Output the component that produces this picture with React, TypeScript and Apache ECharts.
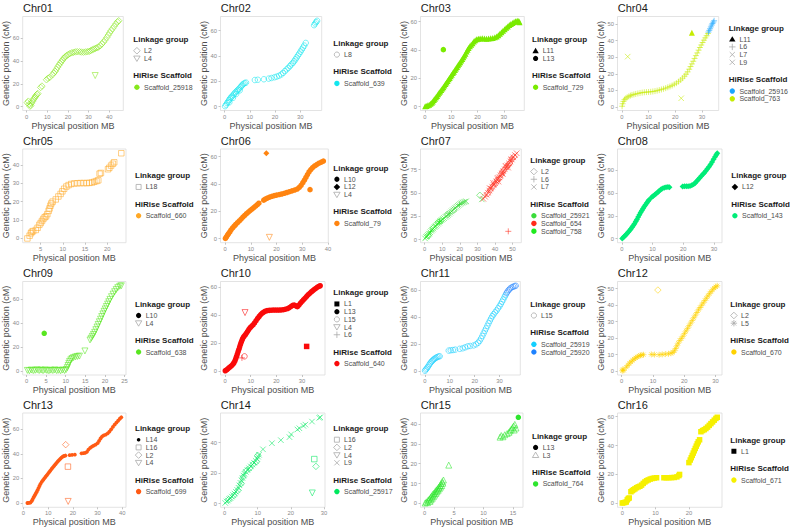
import React, { useEffect, useRef } from 'react';
import * as echarts from 'echarts';

type Pt = [number, number];

// ---------------- DATA ----------------
const chr01X = [0, 10, 20, 30, 40];
const chr01Y = [0, 20, 40, 60];
const chr01_L2_25918: Pt[] = [[0.3,3.5],[0.8,4.8],[1.2,2.0],[1.6,0.4],[2.0,1.2],[2.3,3.0],[2.8,4.5],[3.2,6.0],[3.6,7.2],[4.1,8.4],[4.5,9.6],[5.0,10.8],[5.4,11.5],[6.8,16.8],[7.4,18.0],[9.6,23.5],[10.3,24.8],[11.2,25.6],[12.5,28.0],[13.2,29.5],[13.8,30.8],[14.4,32.6],[15.0,34.5],[15.6,36.2],[16.2,37.8],[16.8,39.4],[17.4,40.8],[18.0,42.3],[18.6,43.4],[19.3,44.5],[20.1,45.5],[20.9,46.3],[21.8,47.0],[22.7,47.5],[23.6,47.8],[24.5,48.0],[25.6,47.9],[26.5,47.7],[27.5,47.6],[28.5,47.8],[29.4,48.0],[30.3,48.3],[31.0,48.9],[31.8,49.6],[32.5,50.3],[33.3,50.9],[34.0,51.4],[34.8,52.0],[35.6,53.2],[36.4,54.8],[37.2,56.4],[38.0,58.2],[38.8,60.4],[39.5,62.5],[40.2,64.5],[40.9,66.4],[41.6,68.2],[42.4,70.2],[43.2,72.3],[44.0,74.0],[44.6,75.0]];
const chr01_L4_25918: Pt[] = [[33.2,27.2]];
const chr01LG = ['L2', 'L4'];
const chr01SC = ['Scaffold_25918'];

const chr02X = [0, 10, 20, 30];
const chr02Y = [0, 20, 40, 60];
const chr02_L8_639: Pt[] = [[0.2,0.3],[0.6,1.5],[1.0,2.8],[1.4,4.0],[1.8,5.2],[1.9,3.4],[2.2,6.5],[2.6,7.4],[3.0,8.2],[3.3,6.9],[3.5,9.3],[3.9,10.4],[4.4,11.5],[4.6,10.0],[4.9,12.4],[5.3,13.3],[5.8,14.2],[6.0,12.8],[6.3,15.4],[6.7,16.3],[7.1,17.2],[7.5,18.0],[8.0,18.6],[8.5,19.0],[12.0,21.0],[13.2,21.2],[15.6,21.6],[17.5,22.1],[18.6,22.6],[19.8,23.2],[20.7,23.7],[21.6,24.4],[22.5,25.4],[23.2,26.6],[23.9,28.0],[24.6,29.4],[25.3,30.6],[25.9,32.0],[26.5,33.3],[27.1,34.6],[27.6,35.8],[28.1,37.3],[28.6,38.8],[29.1,40.4],[29.6,41.8],[30.1,43.4],[30.6,45.0],[31.1,46.6],[31.6,48.2],[32.2,50.3],[35.5,64.3],[35.9,65.6],[36.3,66.7],[36.7,67.8]];
const chr02LG = ['L8'];
const chr02SC = ['Scaffold_639'];

const chr03X = [0, 10, 20, 30];
const chr03Y = [0, 20, 40, 60];
const chr03_L11_729: Pt[] = [[0.1,0.2],[0.6,0.4],[1.1,0.9],[1.6,1.3],[2.1,1.9],[2.6,2.6],[3.0,3.6],[3.4,4.6],[3.8,5.5],[4.2,6.6],[4.6,7.5],[5.0,8.6],[5.4,9.7],[5.8,10.6],[6.2,11.7],[6.6,12.8],[7.0,13.7],[7.4,14.8],[7.8,15.9],[8.2,16.9],[8.6,18.1],[9.0,19.2],[9.4,20.2],[9.8,21.3],[10.2,22.5],[10.6,23.6],[11.0,24.6],[11.4,25.8],[11.8,26.9],[12.2,28.0],[12.6,29.1],[13.0,30.2],[13.4,31.3],[13.8,32.5],[14.2,33.6],[14.6,34.8],[15.0,36.0],[15.4,37.3],[15.8,38.8],[16.2,40.2],[16.6,41.4],[17.1,42.6],[17.6,43.7],[18.1,44.8],[18.6,45.9],[19.1,46.8],[19.7,47.5],[20.3,47.9],[21.0,48.1],[21.8,48.2],[22.6,48.0],[23.4,47.9],[24.2,48.0],[25.0,48.2],[25.8,48.5],[26.6,48.9],[27.3,49.5],[27.9,50.4],[28.5,51.4],[29.1,52.5],[29.7,53.6],[30.3,54.6],[30.9,55.6],[31.5,56.6],[32.1,57.6],[32.7,58.4],[33.3,59.1],[33.9,59.7],[34.5,60.2],[35.1,60.6],[35.7,60.4],[36.0,59.5]];
const chr03_L13_729: Pt[] = [[7.0,40.2]];
const chr03LG = ['L11', 'L13'];
const chr03SC = ['Scaffold_729'];

const chr04X = [0, 10, 20, 30];
const chr04Y = [0, 10, 20, 30, 40, 50];
const chr04_L6_763: Pt[] = [[0.1,0.5],[0.3,2.0],[0.6,3.4],[1.0,4.5],[1.5,5.3],[2.0,5.9],[2.6,6.4],[3.2,6.9],[3.8,7.3],[4.5,7.6],[5.2,7.9],[6.0,8.2],[6.8,8.5],[7.6,8.7],[8.4,8.9],[9.2,9.0],[10.0,9.1],[10.8,9.2],[11.6,9.4],[12.4,9.6],[13.2,9.9],[14.0,10.2],[14.8,10.6],[15.6,11.0],[16.4,11.4],[17.2,11.9],[18.0,12.4],[18.8,13.0],[19.6,13.7],[20.4,14.4],[21.2,15.3],[22.0,16.3],[22.7,17.4],[23.4,18.6],[24.0,19.8],[24.6,21.2],[25.2,22.8],[25.7,24.4],[26.2,26.0],[26.7,27.6],[27.2,29.3],[27.7,31.0],[28.2,32.6],[28.7,34.3],[29.2,35.9],[29.7,37.4],[30.2,38.9],[30.7,40.3],[31.2,41.7],[31.7,43.0],[32.2,44.3]];
const chr04_L6_25916: Pt[] = [[32.4,45.2],[32.7,46.2],[33.0,47.2],[33.3,48.3],[33.6,49.4],[33.9,50.3],[34.2,51.2],[34.5,52.0]];
const chr04_L11_763: Pt[] = [[26.2,44.8]];
const chr04_L7_763: Pt[] = [[2.2,30.4]];
const chr04_L9_763: Pt[] = [[22.2,5.3]];
const chr04LG = ['L11', 'L6', 'L7', 'L9'];
const chr04SC = ['Scaffold_25916', 'Scaffold_763'];

const chr05X = [5, 10, 15, 20];
const chr05Y = [0, 10, 20, 30, 40];
const chr05_L18_660: Pt[] = [[2.0,0.0],[2.5,1.5],[2.8,2.8],[3.0,3.6],[3.3,4.0],[3.9,4.6],[4.3,5.8],[4.7,7.4],[5.0,8.4],[5.3,9.5],[5.6,10.6],[5.9,11.5],[6.2,12.0],[6.5,13.2],[6.8,15.0],[7.0,16.3],[7.2,17.8],[7.4,19.0],[7.7,20.0],[8.4,21.2],[9.0,22.8],[9.5,24.2],[9.9,25.6],[10.3,27.0],[10.8,28.2],[11.3,29.0],[11.9,29.6],[12.6,29.9],[13.3,30.0],[14.0,30.1],[14.7,30.1],[15.4,30.1],[16.0,30.2],[16.6,30.4],[17.1,30.8],[17.6,31.2],[18.0,31.6],[18.3,35.2],[18.6,35.6],[20.2,37.6],[20.5,38.4],[20.9,39.6],[21.3,40.6],[21.6,41.4],[23.2,46.3]];
const chr05LG = ['L18'];
const chr05SC = ['Scaffold_660'];

const chr06X = [0, 10, 20, 30, 40];
const chr06Y = [0, 20, 40, 60];
const chr06_L10_79: Pt[] = [[0.1,0.2],[0.5,1.3],[0.9,2.6],[1.3,3.7],[1.8,5.0],[2.3,6.5],[2.9,7.9],[3.5,9.2],[4.1,10.4],[4.8,11.7],[5.5,13.0],[6.2,14.4],[6.9,15.8],[7.6,17.0],[8.3,18.3],[9.0,19.5],[9.7,20.6],[10.4,21.6],[11.1,22.7],[11.8,23.8],[12.5,24.9],[13.1,26.0],[15.0,28.2],[15.6,29.0],[16.4,29.7],[17.3,30.4],[18.2,31.0],[19.1,31.5],[20.0,31.9],[21.0,32.3],[22.0,32.7],[23.0,33.2],[24.0,33.8],[25.0,34.4],[26.0,35.0],[27.0,35.6],[28.0,36.3],[28.8,37.5],[29.5,39.0],[30.2,41.0],[30.8,42.8],[31.4,44.8],[32.0,46.9],[32.6,48.8],[33.3,50.6],[34.0,52.0],[34.8,53.2],[35.6,54.2],[36.5,55.2],[37.4,56.0],[38.2,56.8],[33.0,35.9]];
const chr06_L12_79: Pt[] = [[16.0,62.5]];
const chr06_L4_79: Pt[] = [[17.2,1.0]];
const chr06LG = ['L10', 'L12', 'L4'];
const chr06SC = ['Scaffold_79'];

const chr07X = [0, 10, 20, 30, 40, 50];
const chr07Y = [0, 25, 50, 75];
const chr07_L7_758: Pt[] = [[0.2,1.2],[0.8,2.8],[1.4,3.6],[1.9,5.0],[2.5,6.3],[3.1,7.8],[3.7,9.4],[4.3,10.6],[4.9,11.8],[5.6,13.4],[6.2,14.6],[6.8,15.8],[7.5,17.0],[8.2,18.2],[8.9,19.6],[9.6,20.8],[10.3,22.0],[11.0,23.0]];
const chr07_L7_25921: Pt[] = [[11.8,24.2],[12.5,25.3],[13.2,26.4],[13.9,27.6],[14.6,28.9],[15.3,30.2],[16.0,31.4],[16.7,32.6],[17.4,33.9],[18.1,35.1],[18.8,36.2],[19.5,37.2],[20.2,38.2],[20.9,39.0],[21.6,39.6],[22.3,40.1],[23.0,40.6],[23.6,41.0],[32.5,43.0]];
const chr07_L2_758: Pt[] = [[2.0,4.2],[5.0,12.8],[7.8,18.8],[9.2,20.0]];
const chr07_L2_25921: Pt[] = [[13.0,26.8],[16.5,31.8],[31.4,47.4]];
const chr07_L6_758: Pt[] = [[3.4,8.4],[8.5,19.2]];
const chr07_L6_25921: Pt[] = [[14.2,28.0],[19.8,37.6]];
const chr07_L7_654: Pt[] = [[33.4,43.6],[34.4,45.8],[35.2,48.0],[36.0,50.2],[36.8,52.5],[37.0,55.0],[37.6,54.6],[38.4,56.7],[39.0,60.5],[39.2,58.6],[40.0,60.4],[40.8,62.3],[41.5,66.0],[41.6,64.4],[42.0,62.0],[42.4,66.6],[43.2,68.8],[44.0,71.0],[44.5,70.0],[44.8,73.2],[45.6,75.2],[46.0,79.0],[46.4,77.3],[47.2,79.4],[47.5,77.0],[48.0,81.5],[48.8,83.6],[49.0,86.0],[49.6,85.7],[50.4,88.0],[51.4,90.5],[52.4,92.4]];
const chr07_L2_654: Pt[] = [[35.8,49.0],[37.4,53.2],[38.8,57.0],[40.2,59.6],[41.2,63.8],[42.6,65.4],[43.6,69.6],[44.2,72.2],[45.2,74.6],[46.8,78.0],[47.8,80.2],[48.4,82.0],[49.8,86.4],[50.8,88.6]];
const chr07_L6_654: Pt[] = [[47.6,8.8]];
const chr07LG = ['L2', 'L6', 'L7'];
const chr07SC = ['Scaffold_25921', 'Scaffold_654', 'Scaffold_758'];

const chr08X = [0, 10, 20, 30];
const chr08Y = [0, 30, 60, 90];
const chr08_L12_143: Pt[] = [[0.1,0.3],[0.5,1.8],[0.9,3.4],[1.3,5.0],[1.7,6.9],[2.1,8.8],[2.5,10.8],[2.9,12.8],[3.3,14.9],[3.7,17.2],[4.1,19.7],[4.5,22.4],[4.9,25.3],[5.3,28.3],[5.7,31.3],[6.1,34.2],[6.5,37.0],[6.9,39.6],[7.3,42.1],[7.7,44.5],[8.1,46.8],[8.5,49.0],[8.8,50.6],[9.7,54.3],[10.2,56.0],[10.7,57.6],[11.2,59.3],[11.7,61.0],[12.2,62.8],[12.7,64.5],[13.2,65.8],[13.8,66.8],[14.4,67.4],[15.0,67.6],[15.5,67.5],[19.8,68.3],[20.4,68.6],[21.0,68.6],[21.6,68.8],[22.2,69.2],[22.8,70.0],[23.4,71.2],[23.9,73.0],[24.4,75.2],[24.9,77.6],[25.4,80.0],[25.9,82.2],[26.4,84.4],[26.9,86.6],[27.4,89.0],[27.9,91.6],[28.4,94.4],[28.9,97.4],[29.4,100.6],[29.9,104.0],[30.4,107.4],[30.8,110.0],[31.1,112.0]];
const chr08LG = ['L12'];
const chr08SC = ['Scaffold_143'];

const chr09X = [0, 5, 10, 15, 20, 25];
const chr09Y = [0, 20, 40, 60];
const chr09_L4_638: Pt[] = [[0.2,0.5],[0.7,0.2],[1.2,0.8],[1.7,0.3],[2.2,0.6],[2.7,1.0],[3.2,0.4],[3.7,0.8],[4.2,0.3],[4.7,0.9],[5.2,0.5],[5.7,0.2],[6.2,0.7],[6.7,0.4],[7.2,0.9],[7.7,0.3],[8.2,0.6],[8.7,0.2],[9.2,0.8],[9.7,0.4],[10.1,1.2],[10.4,2.8],[10.6,4.6],[10.8,6.4],[11.0,8.0],[11.3,9.4],[11.6,10.4],[12.0,11.2],[12.5,11.8],[13.0,12.2],[13.5,12.5],[14.9,16.8],[16.2,26.0],[16.5,27.4],[16.8,29.0],[17.1,30.6],[17.4,32.4],[17.7,34.6],[18.0,36.8],[18.3,39.0],[18.6,41.2],[18.9,43.4],[19.2,45.6],[19.5,47.8],[19.8,50.0],[20.1,52.0],[20.4,54.0],[20.7,56.0],[21.0,58.0],[21.3,60.0],[21.7,62.2],[22.1,64.4],[22.5,66.4],[22.9,68.2],[23.3,69.8],[23.8,71.0],[24.2,71.4]];
const chr09_L10_638: Pt[] = [[4.5,31.6]];
const chr09LG = ['L10', 'L4'];
const chr09SC = ['Scaffold_638'];

const chr10X = [0, 10, 20, 30];
const chr10Y = [0, 20, 40, 60];
const chr10_L13_640: Pt[] = [[0.1,0.2],[0.6,0.8],[1.1,1.6],[1.6,2.4],[2.1,3.2],[2.6,3.9],[3.1,4.9],[3.5,6.0],[3.9,7.4],[4.2,8.9],[4.5,10.5],[4.8,12.1],[5.1,13.8],[5.4,15.5],[5.7,17.2],[6.0,18.9],[6.3,20.5],[6.6,22.0],[6.9,23.4],[7.3,24.6],[7.8,25.6],[8.3,27.0],[8.8,28.4],[9.3,29.8],[9.8,31.0],[10.3,32.0],[10.9,33.0],[11.5,34.4],[12.1,36.0],[12.7,37.6],[13.3,39.0],[13.9,40.4],[14.5,41.4],[15.1,42.2],[15.7,42.8],[16.4,43.2],[17.2,43.4],[18.0,43.5],[18.8,43.6],[19.6,43.6],[20.4,43.6],[21.2,43.6],[22.0,43.7],[22.8,43.9],[23.6,44.2],[24.4,44.7],[25.1,45.4],[25.8,46.3],[26.4,47.0],[27.0,47.2],[27.6,46.6],[28.2,46.0],[28.8,47.2],[29.4,48.6],[30.0,49.8],[30.6,51.0],[31.2,52.2],[31.8,53.4],[32.4,54.6],[33.0,55.6],[33.6,56.6],[34.2,57.5],[34.8,58.4],[35.4,59.2],[36.0,60.0],[36.6,60.6],[37.1,61.0]];
const chr10_L1_640: Pt[] = [[31.8,17.6]];
const chr10_L4_640: Pt[] = [[7.8,41.8]];
const chr10_L15_640: Pt[] = [[7.6,10.5]];
const chr10_L6_640: Pt[] = [[6.6,9.4]];
const chr10LG = ['L1', 'L13', 'L15', 'L4', 'L6'];
const chr10SC = ['Scaffold_640'];

const chr11X = [0, 10, 20, 30];
const chr11Y = [0, 20, 40, 60];
const chr11_L15_25919: Pt[] = [[0.1,0.3],[0.4,1.2],[0.8,2.0],[1.2,3.0],[1.6,4.2],[2.0,5.4],[2.4,6.4],[2.8,7.3],[3.2,8.0],[3.6,8.7],[4.0,9.3],[4.5,9.9],[5.0,10.4],[5.5,10.8],[6.0,11.0],[9.6,15.2],[10.4,15.4],[11.3,15.6],[12.2,15.9],[14.0,16.5],[15.2,16.9],[16.2,17.6],[17.2,18.3],[18.2,18.6],[19.6,19.0],[20.6,19.8],[21.4,21.0],[22.0,22.4],[22.6,24.2],[23.1,26.0],[23.6,27.9],[24.1,29.8],[24.6,31.6],[25.1,33.5],[25.6,35.4],[26.1,37.2],[26.6,39.0],[27.1,40.6],[27.6,42.0],[28.2,43.4],[28.8,44.8],[29.4,46.4],[30.0,48.0],[30.5,49.6],[31.0,51.3],[31.5,53.0],[32.0,54.8],[32.4,56.2]];
const chr11_L15_25920: Pt[] = [[32.8,57.6],[33.2,58.8],[33.7,60.0],[34.2,61.0],[34.8,61.8],[35.4,62.4],[36.0,62.8],[36.5,63.1]];
const chr11LG = ['L15'];
const chr11SC = ['Scaffold_25919', 'Scaffold_25920'];

const chr12X = [0, 10, 20, 30];
const chr12Y = [0, 10, 20, 30, 40, 50];
const chr12_L5_670: Pt[] = [[0.2,0.3],[0.4,1.2],[0.7,0.5],[1.5,2.5],[2.0,3.6],[2.5,4.8],[3.0,5.7],[3.5,6.6],[4.0,7.4],[4.5,8.1],[5.0,8.7],[5.5,9.2],[6.0,9.6],[6.5,9.9],[7.0,10.0],[9.5,10.2],[10.5,10.1],[12.0,10.0],[13.0,10.2],[14.0,10.4],[15.0,10.6],[15.8,10.9],[16.4,11.4],[16.9,12.4],[17.3,13.8],[17.7,15.4],[18.1,17.0],[18.6,18.6],[19.1,19.8],[19.6,21.2],[20.1,22.8],[20.6,24.4],[21.1,26.0],[21.6,27.6],[22.1,29.2],[22.6,30.8],[23.1,32.4],[23.6,34.0],[24.1,35.6],[24.6,37.2],[25.1,38.6],[25.6,40.0],[26.1,41.4],[26.6,42.8],[27.1,44.2],[27.6,45.6],[28.1,47.0],[28.6,48.2],[29.1,49.4],[29.6,50.4],[30.1,51.2],[30.6,51.8]];
const chr12_L2_670: Pt[] = [[11.6,49.2]];
const chr12LG = ['L2', 'L5'];
const chr12SC = ['Scaffold_670'];

const chr13X = [0, 10, 20, 30, 40];
const chr13Y = [0, 20, 40, 60];
const chr13_L14_699: Pt[] = [[1.6,0.1],[2.2,0.2],[2.8,0.4],[3.3,1.6],[3.7,3.0],[4.1,4.6],[4.5,6.0],[4.9,7.4],[5.3,8.9],[5.7,10.5],[6.1,12.2],[6.5,13.9],[6.9,15.6],[7.4,17.2],[7.9,18.6],[8.4,19.9],[8.9,21.2],[9.4,22.5],[9.9,23.8],[10.4,25.1],[10.9,26.4],[11.4,27.7],[11.9,29.0],[12.4,30.2],[12.9,31.4],[13.4,32.6],[13.9,33.8],[14.4,34.9],[14.9,35.9],[15.4,36.9],[15.9,37.7],[16.4,38.2],[17.0,38.6],[18.7,38.9],[19.7,39.1],[20.8,39.3],[23.5,40.4],[24.3,40.6],[25.0,40.8],[25.7,41.6],[26.3,43.4],[27.0,44.8],[27.7,45.8],[28.4,46.6],[29.2,47.4],[30.0,48.6],[30.6,50.4],[31.2,52.4],[31.8,54.0],[32.5,55.0],[33.3,55.6],[34.1,56.6],[34.8,58.0],[35.5,59.8],[36.2,61.8],[36.9,63.6],[37.6,65.2],[38.3,66.8],[39.0,68.4],[39.6,69.6]];
const chr13_L2_699: Pt[] = [[17.1,47.4]];
const chr13_L16_699: Pt[] = [[18.0,29.6]];
const chr13_L4_699: Pt[] = [[18.1,1.4]];
const chr13LG = ['L14', 'L16', 'L2', 'L4'];
const chr13SC = ['Scaffold_699'];

const chr14X = [0, 10, 20, 30];
const chr14Y = [0, 20, 40];
const chr14_L9_25917: Pt[] = [[0.2,0.4],[0.6,1.4],[1.0,2.0],[1.4,3.0],[1.8,3.6],[2.2,4.6],[2.6,5.6],[3.0,6.6],[3.4,7.8],[3.8,9.0],[4.2,10.4],[4.5,12.0],[4.8,13.6],[5.1,15.2],[5.4,16.8],[5.7,18.4],[6.0,19.6],[6.4,20.8],[6.9,22.0],[7.4,23.2],[7.9,24.4],[8.4,25.6],[8.9,26.8],[9.4,28.0],[9.8,29.4],[10.1,30.8],[10.4,32.0],[11.6,35.6],[14.3,39.6],[17.0,41.6],[19.6,43.6],[20.1,45.4],[22.0,48.6],[22.6,49.4],[23.8,51.0],[24.4,51.8],[26.4,53.8],[28.6,56.2],[28.9,56.6]];
const chr14_L2_25917: Pt[] = [[1.2,2.6],[2.8,5.4],[4.0,8.6],[5.0,13.0],[5.6,17.4],[6.6,21.6],[7.6,23.2],[8.6,25.8],[9.6,27.4],[10.0,31.6],[27.6,24.4]];
const chr14_L16_25917: Pt[] = [[27.1,29.2]];
const chr14_L4_25917: Pt[] = [[26.5,7.0]];
const chr14LG = ['L16', 'L2', 'L4', 'L9'];
const chr14SC = ['Scaffold_25917'];

const chr15X = [0, 5, 10, 15];
const chr15Y = [0, 10, 20, 30, 40];
const chr15_L3_764: Pt[] = [[0.1,0.2],[0.3,0.8],[0.5,0.4],[0.6,1.6],[0.8,2.2],[0.9,1.0],[1.0,3.0],[1.1,1.8],[1.2,3.8],[1.3,2.6],[1.4,4.6],[1.5,3.4],[1.6,5.2],[1.7,4.2],[1.8,6.0],[1.9,5.0],[2.0,6.8],[2.1,5.8],[2.2,7.4],[2.3,6.6],[2.4,8.2],[2.5,7.4],[2.6,9.0],[2.7,8.2],[2.8,10.0],[2.9,9.0],[3.0,11.0],[3.1,10.2],[3.2,11.8],[4.1,19.3],[12.8,33.4],[13.0,34.2],[13.3,33.6],[13.6,34.6],[14.0,35.2],[14.3,35.8],[14.5,36.6],[14.7,37.4],[14.9,38.2],[15.1,39.0],[15.3,39.8],[15.2,37.0],[15.5,38.0]];
const chr15_L13_764: Pt[] = [[15.9,43.4]];
const chr15LG = ['L13', 'L3'];
const chr15SC = ['Scaffold_764'];

const chr16X = [0, 10, 20];
const chr16Y = [0, 20, 40, 60];
const chr16_L1_671: Pt[] = [[0.0,0.2],[0.4,0.4],[0.8,0.6],[1.2,0.9],[1.5,2.4],[1.8,3.3],[2.1,3.7],[2.6,8.0],[3.0,8.8],[3.4,9.4],[3.8,10.0],[4.3,10.8],[4.8,11.4],[5.3,11.8],[5.8,12.6],[6.3,13.8],[6.8,14.8],[7.3,15.6],[7.8,16.2],[8.4,16.8],[9.0,17.2],[9.6,17.5],[10.3,17.7],[12.5,17.7],[13.2,17.7],[14.0,17.7],[14.8,17.8],[15.6,17.9],[16.4,18.3],[17.0,19.2],[17.2,20.0],[20.0,28.2],[20.4,30.0],[20.7,31.6],[21.0,33.2],[21.3,34.8],[21.6,36.4],[21.9,38.0],[22.2,39.6],[22.5,41.2],[22.8,42.6],[23.2,44.0],[23.6,49.6],[24.1,50.4],[24.6,51.0],[25.1,51.8],[25.6,52.8],[26.1,54.0],[26.6,55.2],[27.1,56.4],[27.6,57.6],[28.1,58.8],[28.5,59.6]];
const chr16LG = ['L1'];
const chr16SC = ['Scaffold_671'];

// ---------------- STYLES ----------------
const SCAFFOLD_COLORS: Record<string, string> = {
  Scaffold_25918: '#86E81C', Scaffold_639: '#12E6EE', Scaffold_729: '#7AEB00',
  Scaffold_25916: '#1AA6FF', Scaffold_763: '#C6EC00', Scaffold_660: '#FFA826',
  Scaffold_79: '#FF8410', Scaffold_25921: '#3ADB3A', Scaffold_654: '#FF2A1A',
  Scaffold_758: '#1FEA1F', Scaffold_143: '#00EC78', Scaffold_638: '#58E620',
  Scaffold_640: '#FA0A0A', Scaffold_25919: '#14CFFF', Scaffold_25920: '#1E82FF',
  Scaffold_670: '#FFD200', Scaffold_699: '#FF5A14', Scaffold_25917: '#00E85E',
  Scaffold_764: '#2EE52E', Scaffold_671: '#F6F000',
};

type Kind = 'circle' | 'rect' | 'diamond' | 'triangle' | 'triangleDown' | 'plus' | 'cross' | 'asterisk' | 'dot';
const LG_SHAPE: Record<string, { kind: Kind; filled: boolean; size: number }> = {
  L1: { kind: 'rect', filled: true, size: 5.5 },
  L2: { kind: 'diamond', filled: false, size: 6.5 },
  L3: { kind: 'triangle', filled: false, size: 6 },
  L4: { kind: 'triangleDown', filled: false, size: 6 },
  L5: { kind: 'asterisk', filled: false, size: 6 },
  L6: { kind: 'plus', filled: false, size: 6 },
  L7: { kind: 'cross', filled: false, size: 5.5 },
  L8: { kind: 'circle', filled: false, size: 5.5 },
  L9: { kind: 'cross', filled: false, size: 5.5 },
  L10: { kind: 'circle', filled: true, size: 5.5 },
  L11: { kind: 'triangle', filled: true, size: 6 },
  L12: { kind: 'diamond', filled: true, size: 6 },
  L13: { kind: 'circle', filled: true, size: 5.5 },
  L14: { kind: 'dot', filled: true, size: 3.8 },
  L15: { kind: 'circle', filled: false, size: 5.5 },
  L16: { kind: 'rect', filled: false, size: 5.5 },
  L18: { kind: 'rect', filled: false, size: 5.5 },
};

interface Group { sc: string; lg: string; data: Pt[] }
interface Panel { title: string; xTicks: number[]; yTicks: number[]; groups: Group[]; lg: string[]; sc: string[] }

const panels: Panel[] = [
  { title: 'Chr01', xTicks: chr01X, yTicks: chr01Y, lg: chr01LG, sc: chr01SC, groups: [
    { sc: 'Scaffold_25918', lg: 'L2', data: chr01_L2_25918 }, { sc: 'Scaffold_25918', lg: 'L4', data: chr01_L4_25918 }] },
  { title: 'Chr02', xTicks: chr02X, yTicks: chr02Y, lg: chr02LG, sc: chr02SC, groups: [
    { sc: 'Scaffold_639', lg: 'L8', data: chr02_L8_639 }] },
  { title: 'Chr03', xTicks: chr03X, yTicks: chr03Y, lg: chr03LG, sc: chr03SC, groups: [
    { sc: 'Scaffold_729', lg: 'L11', data: chr03_L11_729 }, { sc: 'Scaffold_729', lg: 'L13', data: chr03_L13_729 }] },
  { title: 'Chr04', xTicks: chr04X, yTicks: chr04Y, lg: chr04LG, sc: chr04SC, groups: [
    { sc: 'Scaffold_763', lg: 'L6', data: chr04_L6_763 }, { sc: 'Scaffold_25916', lg: 'L6', data: chr04_L6_25916 },
    { sc: 'Scaffold_763', lg: 'L11', data: chr04_L11_763 }, { sc: 'Scaffold_763', lg: 'L7', data: chr04_L7_763 },
    { sc: 'Scaffold_763', lg: 'L9', data: chr04_L9_763 }] },
  { title: 'Chr05', xTicks: chr05X, yTicks: chr05Y, lg: chr05LG, sc: chr05SC, groups: [
    { sc: 'Scaffold_660', lg: 'L18', data: chr05_L18_660 }] },
  { title: 'Chr06', xTicks: chr06X, yTicks: chr06Y, lg: chr06LG, sc: chr06SC, groups: [
    { sc: 'Scaffold_79', lg: 'L10', data: chr06_L10_79 }, { sc: 'Scaffold_79', lg: 'L12', data: chr06_L12_79 },
    { sc: 'Scaffold_79', lg: 'L4', data: chr06_L4_79 }] },
  { title: 'Chr07', xTicks: chr07X, yTicks: chr07Y, lg: chr07LG, sc: chr07SC, groups: [
    { sc: 'Scaffold_758', lg: 'L7', data: chr07_L7_758 }, { sc: 'Scaffold_25921', lg: 'L7', data: chr07_L7_25921 },
    { sc: 'Scaffold_758', lg: 'L2', data: chr07_L2_758 }, { sc: 'Scaffold_25921', lg: 'L2', data: chr07_L2_25921 },
    { sc: 'Scaffold_758', lg: 'L6', data: chr07_L6_758 }, { sc: 'Scaffold_25921', lg: 'L6', data: chr07_L6_25921 },
    { sc: 'Scaffold_654', lg: 'L7', data: chr07_L7_654 }, { sc: 'Scaffold_654', lg: 'L2', data: chr07_L2_654 },
    { sc: 'Scaffold_654', lg: 'L6', data: chr07_L6_654 }] },
  { title: 'Chr08', xTicks: chr08X, yTicks: chr08Y, lg: chr08LG, sc: chr08SC, groups: [
    { sc: 'Scaffold_143', lg: 'L12', data: chr08_L12_143 }] },
  { title: 'Chr09', xTicks: chr09X, yTicks: chr09Y, lg: chr09LG, sc: chr09SC, groups: [
    { sc: 'Scaffold_638', lg: 'L4', data: chr09_L4_638 }, { sc: 'Scaffold_638', lg: 'L10', data: chr09_L10_638 }] },
  { title: 'Chr10', xTicks: chr10X, yTicks: chr10Y, lg: chr10LG, sc: chr10SC, groups: [
    { sc: 'Scaffold_640', lg: 'L13', data: chr10_L13_640 }, { sc: 'Scaffold_640', lg: 'L1', data: chr10_L1_640 },
    { sc: 'Scaffold_640', lg: 'L4', data: chr10_L4_640 }, { sc: 'Scaffold_640', lg: 'L15', data: chr10_L15_640 },
    { sc: 'Scaffold_640', lg: 'L6', data: chr10_L6_640 }] },
  { title: 'Chr11', xTicks: chr11X, yTicks: chr11Y, lg: chr11LG, sc: chr11SC, groups: [
    { sc: 'Scaffold_25919', lg: 'L15', data: chr11_L15_25919 }, { sc: 'Scaffold_25920', lg: 'L15', data: chr11_L15_25920 }] },
  { title: 'Chr12', xTicks: chr12X, yTicks: chr12Y, lg: chr12LG, sc: chr12SC, groups: [
    { sc: 'Scaffold_670', lg: 'L5', data: chr12_L5_670 }, { sc: 'Scaffold_670', lg: 'L2', data: chr12_L2_670 }] },
  { title: 'Chr13', xTicks: chr13X, yTicks: chr13Y, lg: chr13LG, sc: chr13SC, groups: [
    { sc: 'Scaffold_699', lg: 'L14', data: chr13_L14_699 }, { sc: 'Scaffold_699', lg: 'L2', data: chr13_L2_699 },
    { sc: 'Scaffold_699', lg: 'L16', data: chr13_L16_699 }, { sc: 'Scaffold_699', lg: 'L4', data: chr13_L4_699 }] },
  { title: 'Chr14', xTicks: chr14X, yTicks: chr14Y, lg: chr14LG, sc: chr14SC, groups: [
    { sc: 'Scaffold_25917', lg: 'L9', data: chr14_L9_25917 }, { sc: 'Scaffold_25917', lg: 'L2', data: chr14_L2_25917 },
    { sc: 'Scaffold_25917', lg: 'L16', data: chr14_L16_25917 }, { sc: 'Scaffold_25917', lg: 'L4', data: chr14_L4_25917 }] },
  { title: 'Chr15', xTicks: chr15X, yTicks: chr15Y, lg: chr15LG, sc: chr15SC, groups: [
    { sc: 'Scaffold_764', lg: 'L3', data: chr15_L3_764 }, { sc: 'Scaffold_764', lg: 'L13', data: chr15_L13_764 }] },
  { title: 'Chr16', xTicks: chr16X, yTicks: chr16Y, lg: chr16LG, sc: chr16SC, groups: [
    { sc: 'Scaffold_671', lg: 'L1', data: chr16_L1_671 }] },
];

// ---------------- LAYOUT ----------------
const colLeft = [22.7, 220.5, 420.5, 617.5];
const rowTop = [16.5, 149, 281.5, 413];
const rowBottom = [110.5, 242.7, 375, 507.3];
const plotRight = [123.3, 321.7, 524.3, 718.7, 126, 328.3, 521.3, 722, 126, 325, 520.3, 722, 126, 325, 523, 722];
const legendX = [133.3, 333.3, 532, 728.7, 135, 333.3, 530.3, 731.3, 135, 333.3, 530.3, 730.3, 135, 333.3, 532, 730.3];
const FONT = '"Liberation Sans", Arial, sans-serif';

const PATHS: Record<string, string> = {
  plus: 'path://M0,5L10,5M5,0L5,10',
  cross: 'path://M0,0L10,10M10,0L0,10',
  asterisk: 'path://M0,5L10,5M5,0L5,10M1.5,1.5L8.5,8.5M8.5,1.5L1.5,8.5',
};

function symbolOf(kind: Kind): { symbol: string; rotate: number } {
  switch (kind) {
    case 'circle': case 'dot': return { symbol: 'circle', rotate: 0 };
    case 'rect': return { symbol: 'rect', rotate: 0 };
    case 'diamond': return { symbol: 'diamond', rotate: 0 };
    case 'triangle': return { symbol: 'triangle', rotate: 0 };
    case 'triangleDown': return { symbol: 'triangle', rotate: 180 };
    default: return { symbol: PATHS[kind], rotate: 0 };
  }
}

function extent(p: Panel, k: 0 | 1): [number, number] {
  let lo = Infinity, hi = -Infinity;
  p.groups.forEach(g => g.data.forEach(d => { lo = Math.min(lo, d[k]); hi = Math.max(hi, d[k]); }));
  const r = hi - lo;
  return [lo - 0.05 * r, hi + 0.05 * r];
}

function legendIcon(kind: Kind, filled: boolean, cx: number, cy: number): any[] {
  const fill = filled ? '#000' : 'transparent';
  const stroke = filled ? undefined : '#aaa';
  const st = { fill, stroke, lineWidth: 0.8 };
  const ln = (x1: number, y1: number, x2: number, y2: number) => ({ type: 'line', silent: true, shape: { x1, y1, x2, y2 }, style: { stroke: '#aaa', lineWidth: 0.8 } });
  switch (kind) {
    case 'circle': return [{ type: 'circle', silent: true, shape: { cx, cy, r: 2.6 }, style: st }];
    case 'dot': return [{ type: 'circle', silent: true, shape: { cx, cy, r: 1.8 }, style: st }];
    case 'rect': return [{ type: 'rect', silent: true, shape: { x: cx - 2.5, y: cy - 2.5, width: 5, height: 5 }, style: st }];
    case 'diamond': return [{ type: 'polygon', silent: true, shape: { points: [[cx, cy - 3.3], [cx + 3.3, cy], [cx, cy + 3.3], [cx - 3.3, cy]] }, style: st }];
    case 'triangle': return [{ type: 'polygon', silent: true, shape: { points: [[cx, cy - 3], [cx + 3.2, cy + 2.4], [cx - 3.2, cy + 2.4]] }, style: st }];
    case 'triangleDown': return [{ type: 'polygon', silent: true, shape: { points: [[cx, cy + 3], [cx + 3.2, cy - 2.4], [cx - 3.2, cy - 2.4]] }, style: st }];
    case 'plus': return [ln(cx - 3.2, cy, cx + 3.2, cy), ln(cx, cy - 3.2, cx, cy + 3.2)];
    case 'cross': return [ln(cx - 2.6, cy - 2.6, cx + 2.6, cy + 2.6), ln(cx - 2.6, cy + 2.6, cx + 2.6, cy - 2.6)];
    case 'asterisk': return [ln(cx - 3.2, cy, cx + 3.2, cy), ln(cx, cy - 3.2, cx, cy + 3.2), ln(cx - 2.3, cy - 2.3, cx + 2.3, cy + 2.3), ln(cx - 2.3, cy + 2.3, cx + 2.3, cy - 2.3)];
  }
  return [];
}

function buildOption() {
  const grids: any[] = [];
  const xAxes: any[] = [];
  const yAxes: any[] = [];
  const series: any[] = [];
  const graphics: any[] = [];

  panels.forEach((p, i) => {
    const c = i % 4, r = Math.floor(i / 4);
    const left = colLeft[c], top = rowTop[r], bottom = rowBottom[r], right = plotRight[i];
    grids.push({ left, top, width: right - left, height: bottom - top, show: true, borderColor: '#dcdcdc', borderWidth: 0.8, backgroundColor: 'transparent' });
    const [xmin, xmax] = extent(p, 0);
    const [ymin, ymax] = extent(p, 1);
    const axisCommon = {
      type: 'value', gridIndex: i, splitLine: { show: false },
      axisLine: { show: false, onZero: false },
    };
    xAxes.push({ ...axisCommon, position: 'bottom', min: xmin, max: xmax,
      axisTick: { show: true, length: 2, lineStyle: { color: '#b5b5b5', width: 0.8 }, customValues: p.xTicks },
      axisLabel: { show: true, customValues: p.xTicks, fontSize: 5.8, color: '#8a8a8a', margin: 3, fontFamily: FONT } });
    yAxes.push({ ...axisCommon, position: 'left', min: ymin, max: ymax,
      axisTick: { show: true, length: 2, lineStyle: { color: '#b5b5b5', width: 0.8 }, customValues: p.yTicks },
      axisLabel: { show: true, customValues: p.yTicks, fontSize: 5.8, color: '#8a8a8a', margin: 3.5, fontFamily: FONT } });

    p.groups.forEach(g => {
      const sh = LG_SHAPE[g.lg];
      const col = SCAFFOLD_COLORS[g.sc];
      const sym = symbolOf(sh.kind);
      const itemStyle = sh.filled
        ? { color: col, opacity: 1 }
        : { color: 'rgba(0,0,0,0)', borderColor: col, borderWidth: 0.8, opacity: 0.7 };
      series.push({
        type: 'scatter', name: p.title + '_' + g.sc + '_' + g.lg, xAxisIndex: i, yAxisIndex: i,
        data: g.data, symbol: sym.symbol, symbolRotate: sym.rotate, symbolSize: sh.size,
        itemStyle, silent: true, z: sh.filled ? 3 : 2,
      });
    });

    graphics.push({ type: 'text', silent: true, x: left + 0.3, y: top - 8.2, style: { text: p.title, fontSize: 11, fontFamily: FONT, fill: '#1a1a1a', align: 'left', verticalAlign: 'middle' } });
    graphics.push({ type: 'text', silent: true, x: (left + right) / 2, y: bottom + 15, style: { text: 'Physical position MB', fontSize: 9, fontFamily: FONT, fill: '#4d4d4d', align: 'center', verticalAlign: 'middle' } });
    graphics.push({ type: 'text', silent: true, x: left - 16.5, y: (top + bottom) / 2, rotation: Math.PI / 2, style: { text: 'Genetic position (cM)', fontSize: 9, fontFamily: FONT, fill: '#4d4d4d', align: 'center', verticalAlign: 'middle' } });

    const n1 = p.lg.length, n2 = p.sc.length;
    const H = 11 + (n1 - 1) * 7.7 + 17.3 + 11.5 + (n2 - 1) * 7.7;
    const y0 = (top + bottom) / 2 - H / 2;
    const Lx = legendX[i];
    graphics.push({ type: 'text', silent: true, x: Lx, y: y0, style: { text: 'Linkage group', fontSize: 8, fontWeight: 'bold', fontFamily: FONT, fill: '#1a1a1a', align: 'left', verticalAlign: 'middle' } });
    const y = y0 + 11;
    p.lg.forEach((lg, k) => {
      const yy = y + k * 7.7;
      const sh = LG_SHAPE[lg];
      legendIcon(sh.kind, sh.filled, Lx + 3.6, yy).forEach(e => graphics.push(e));
      graphics.push({ type: 'text', silent: true, x: Lx + 10.7, y: yy, style: { text: lg, fontSize: 7, fontFamily: FONT, fill: '#4d4d4d', align: 'left', verticalAlign: 'middle' } });
    });
    const yT2 = y + (n1 - 1) * 7.7 + 17.3;
    graphics.push({ type: 'text', silent: true, x: Lx, y: yT2, style: { text: 'HiRise Scaffold', fontSize: 8, fontWeight: 'bold', fontFamily: FONT, fill: '#1a1a1a', align: 'left', verticalAlign: 'middle' } });
    p.sc.forEach((sc, k) => {
      const yy = yT2 + 11.5 + k * 7.7;
      graphics.push({ type: 'circle', silent: true, shape: { cx: Lx + 3.6, cy: yy, r: 2.7 }, style: { fill: SCAFFOLD_COLORS[sc] } });
      graphics.push({ type: 'text', silent: true, x: Lx + 10.7, y: yy, style: { text: sc, fontSize: 7, fontFamily: FONT, fill: '#4d4d4d', align: 'left', verticalAlign: 'middle' } });
    });
  });

  return {
    animation: false,
    backgroundColor: '#ffffff',
    textStyle: { fontFamily: FONT },
    grid: grids, xAxis: xAxes, yAxis: yAxes, series,
    graphic: { elements: graphics },
  };
}

export default function App() {
  const ref = useRef<HTMLDivElement>(null);
  useEffect(() => {
    if (!ref.current) return;
    const chart = echarts.init(ref.current, undefined, { renderer: 'svg' });
    chart.setOption(buildOption() as any);
    return () => chart.dispose();
  }, []);
  return <div ref={ref} style={{ position: 'absolute', left: 0, top: 0, width: 794, height: 530 }} />;
}
